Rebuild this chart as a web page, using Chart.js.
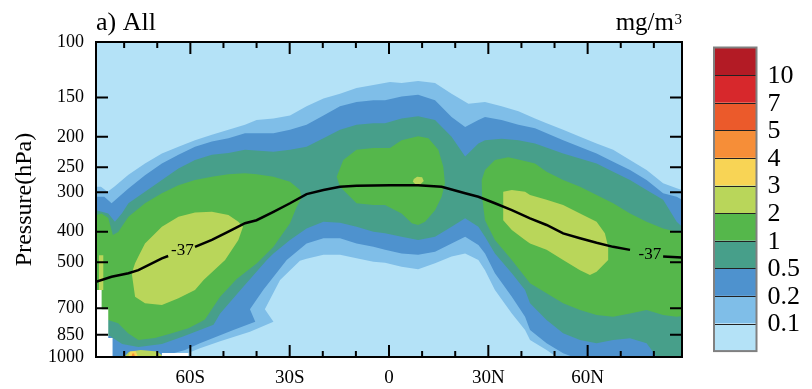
<!DOCTYPE html>
<html>
<head>
<meta charset="utf-8">
<script src="https://cdn.jsdelivr.net/npm/chart.js@4.4.1/dist/chart.umd.min.js"></script>
<style>
  html, body { margin: 0; padding: 0; background: #fff; }
  #wrap { width: 812px; height: 389px; }
</style>
</head>
<body>
<div id="wrap"><canvas id="chart" width="812" height="389"></canvas></div>
<script>
// contour levels (mg/m3) and the shade used above each of them
const LEVELS = [0.1, 0.2, 0.5, 1, 2, 3, 4, 5, 7, 10];
const LEVEL_COLORS = ['#b4e2f7', '#7fbee8', '#4e92ce', '#479f8a', '#55b74b', '#b9d65a',
                      '#f8d455', '#f68e38', '#eb5a2b', '#d7282c', '#b31b25'];

const PRESSURE_TICKS = [100, 150, 200, 250, 300, 400, 500, 700, 850, 1000];
const LAT_TICKS = [-80, -70, -60, -50, -40, -30, -20, -10, 0, 10, 20, 30, 40, 50, 60, 70, 80];
const LAT_LABELS = ['', '', '60S', '', '', '30S', '', '', '0', '', '', '30N', '', '', '60N', '', ''];

// filled regions, [latitude, pressure] outlines
const above01 = [[-88.5,288],[-87,288],[-85,299],[-83,288],[-78.7,264],[-73.7,243],[-68.6,226],[-63.6,215],
  [-58.6,205],[-53.5,197],[-48.5,190],[-43.5,183],[-40,177],[-34.9,175],[-29.9,171],[-24.9,160],[-19.8,151],
  [-14.8,146],[-9.8,140],[-4.7,137],[0.3,134],[3.8,135],[8.8,133],[13.9,135],[18.9,146],[24,157],[29,155],
  [34,160],[39.1,166],[44.1,175],[47.6,181],[52.6,190],[57.7,200],[62.7,210],[67.7,220],[72.8,237],[77.8,255],
  [82.8,281],[86.9,291],[88.5,295],[88.5,1000],[50.6,1000],[47.6,950],[42.6,883],[41.1,821],[37.1,727],
  [32,613],[29,530],[27,492],[23,469],[18.9,480],[13.9,504],[8.8,527],[3.8,517],[-1.2,502],[-4.7,498],
  [-9.8,486],[-14.8,474],[-19.8,474],[-24.9,488],[-26.9,495],[-32.9,570],[-37.5,705],[-34.9,773],
  [-42,831],[-51,891],[-57.1,938],[-63.7,1000],[-88.5,1000]];

const above02 = [[-88.5,310],[-86,310],[-83.8,325],[-78.7,292],[-73.7,265],[-68.6,243],[-63.6,228],[-58.6,215],
  [-53.5,207],[-48.5,202],[-43.5,195],[-34.9,195],[-29.9,190],[-24.9,183],[-19.8,171],[-14.8,160],[-9.8,155],
  [-4.7,153],[-1.2,153],[3.8,149],[8.8,147],[13.9,153],[18.9,173],[23,186],[27,177],[29,173],[34,177],
  [39.1,183],[44.1,188],[52.6,205],[62.7,226],[67.7,240],[72.8,255],[77.8,274],[82.8,302],[86.9,310],
  [88.5,317],[88.5,1000],[55.6,1000],[52.6,973],[47.6,905],[42.6,821],[41.1,745],[37.1,644],[32,542],
  [29,469],[27,441],[23,415],[18.9,436],[13.9,463],[8.8,474],[3.8,469],[-1.2,457],[-4.7,447],[-9.8,436],
  [-14.8,420],[-19.8,420],[-24.9,436],[-30.9,492],[-38,613],[-42,705],[-40.4,773],[-47,821],[-57.1,905],
  [-61.6,950],[-69.2,1000],[-88.5,1000]];

const above05 = [[-88.5,342],[-84.8,350],[-82.8,372],[-80.7,350],[-78.7,325],[-73.7,299],[-68.6,274],
  [-63.6,252],[-58.6,237],[-53.5,228],[-48.5,225],[-43.5,220],[-34.9,223],[-29.9,220],[-24.9,215],[-19.8,202],
  [-14.8,190],[-9.8,183],[-4.7,181],[-1.2,181],[3.8,175],[8.8,172],[13.9,177],[18.9,200],[23,231],[27,210],
  [29,205],[34,203],[39.1,205],[44.1,210],[52.6,226],[62.7,243],[67.7,258],[72.8,274],[77.8,295],[82.8,317],
  [86.9,372],[88.5,386],[88.5,1000],[80.9,1000],[77.8,905],[72.8,872],[67.7,883],[62.7,905],[57.7,883],
  [52.6,841],[47.6,763],[42.6,675],[41.1,613],[37.1,542],[32,469],[29,415],[27,386],[23,363],[18.9,386],
  [13.9,415],[8.8,425],[3.8,415],[-1.2,405],[-4.7,400],[-9.8,386],[-14.8,375],[-19.8,372],[-24.9,391],
  [-29.9,425],[-34.9,469],[-36.9,492],[-44,598],[-51,727],[-53,790],[-57.1,821],[-62,860],[-68.6,910],
  [-75.7,929],[-80.6,910],[-84.3,858],[-88.5,858]];

const above1West = [[-88.5,354],[-86.8,350],[-84.8,362],[-83.4,410],[-81.8,401],[-78.7,359],[-73.7,325],
  [-68.6,302],[-63.6,285],[-58.6,274],[-53.5,268],[-48.5,263],[-43.5,261],[-40,263],[-34.9,268],[-29.9,278],
  [-26.9,295],[-26.4,313],[-27.9,334],[-29.9,376],[-34.9,447],[-40,505],[-46,565],[-51,644],[-55.6,760],
  [-57.1,775],[-60.6,810],[-65.6,840],[-70.7,870],[-75.7,883],[-78.8,840],[-81.8,781],[-84.8,763],[-88.5,750]];

const above1Mid = [[-15.8,268],[-13.8,237],[-9.8,220],[-4.7,217],[0.3,217],[3.8,205],[8.8,199],[11.9,202],
  [14.9,220],[16.4,249],[16.9,281],[15.9,310],[13.9,342],[10.9,372],[8.8,381],[6.9,376],[3.8,350],
  [-1.2,329],[-4.7,329],[-9.8,325],[-14.8,288]];

const above1East = [[28,274],[29,255],[32,237],[36,232],[39.1,236],[44.1,243],[47.6,258],[52.6,274],
  [57.7,288],[62.7,306],[67.7,325],[72.8,350],[77.8,372],[82.8,391],[86.9,400],[88.5,405],[88.5,741],
  [86.9,745],[82.8,736],[77.8,709],[72.8,727],[67.7,745],[62.7,736],[57.7,709],[52.6,675],[47.6,628],
  [42.6,583],[37.1,492],[32,425],[29,368],[28.1,310]];

const above2West = [[-75.7,480],[-73.7,436],[-68.6,386],[-63.6,359],[-58.6,348],[-53.5,346],[-48.5,354],
  [-45.5,372],[-44.1,386],[-45.5,425],[-49.5,492],[-56,570],[-58.6,613],[-63.6,651],[-68.6,684],
  [-73.7,675],[-76.7,644],[-77.7,542],[-76.7,504]];

const above2Mid = [[7.5,272],[8.5,268],[10,269],[10.5,276],[9.5,283],[8,283],[7.2,278]];

const above2East = [[34.5,299],[37.1,295],[41.1,299],[42.6,306],[47.6,317],[52.6,329],[57.7,350],
  [62.7,372],[65.2,405],[66.2,447],[66.2,492],[62.7,536],[60.7,549],[57.7,530],[52.6,492],[47.6,457],
  [42.6,436],[41.1,425],[37.1,395],[34.5,368]];

const above2Edge = [[-87.6,475],[-86.3,475],[-86.3,613],[-87.6,613]];
const above2Floor = [[-80,1000],[-78.5,962],[-75,950],[-70,960],[-68,1000]];
const above3Floor = [[-78.8,1000],[-78.2,960],[-76.5,958],[-75.8,1000]];
const above4Floor = [[-77.8,1000],[-77.5,975],[-77,975],[-76.7,1000]];

// no data
const missingEdge = [[-88.5,613],[-86.8,613],[-86.8,705],[-84.8,705],[-84.8,870],[-83.5,870],
  [-83.5,1000],[-88.5,1000]];
const missingFloor = [[-68.6,1000],[-68.6,972],[-60.7,972],[-60.7,1000]];

// -37 isotherm, null where the label sits
const isotherm37 = [[-88.5,577],[-83.8,556],[-78.7,542],[-75.7,530],[-68.6,486],[-66.7,478],null,
  [-58.6,447],[-53.5,425],[-48.5,400],[-43.5,376],[-40,368],[-34.9,346],[-29.9,325],[-24.9,304],
  [-19.8,295],[-14.8,288],[-9.8,286],[0.3,285],[8.8,285],[15.9,288],[18.9,294],[23,302],[27,310],
  [32,325],[37.1,342],[42.6,363],[47.6,381],[52.6,405],[57.7,420],[62.7,434],[67.7,447],[72.8,457],null,
  [82.8,480],[88.5,483]];
const isothermLabels = [[-62.4, 460, '-37'], [78.8, 472, '-37']];

const SERIF = '"Liberation Serif", "Times New Roman", serif';
Chart.defaults.font.family = SERIF;
Chart.defaults.color = '#000';

const regions = [
  {pts: above01, level: 1}, {pts: above02, level: 2}, {pts: above05, level: 3},
  {pts: above1West, level: 4}, {pts: above1Mid, level: 4}, {pts: above1East, level: 4},
  {pts: above2West, level: 5}, {pts: above2Mid, level: 5}, {pts: above2East, level: 5},
  {pts: above2Edge, level: 5}, {pts: above2Floor, level: 5},
  {pts: above3Floor, level: 6}, {pts: above4Floor, level: 7},
  {pts: missingEdge, level: 20, color: '#ffffff'}, {pts: missingFloor, level: 20, color: '#ffffff'}
];

const toXY = pt => pt ? {x: pt[0], y: pt[1]} : {x: null, y: null};

const datasets = regions.map(r => ({
  data: r.pts.map(toXY),
  backgroundColor: r.color || LEVEL_COLORS[r.level],
  borderColor: 'transparent',
  borderWidth: 0,
  pointRadius: 0,
  fill: 'shape',
  order: 100 - r.level
}));

datasets.push({
  data: isotherm37.map(toXY),
  borderColor: '#000',
  borderWidth: 2.5,
  pointRadius: 0,
  fill: false,
  spanGaps: false,
  order: 0
});

// shade below the lowest level fills the whole plot
const plotBackground = {
  id: 'plotBackground',
  beforeDraw(chart) {
    const {ctx, chartArea: a} = chart;
    ctx.save();
    ctx.fillStyle = LEVEL_COLORS[0];
    ctx.fillRect(a.left, a.top, a.right - a.left, a.bottom - a.top);
    ctx.restore();
  }
};

const contourLabels = {
  id: 'contourLabels',
  afterDatasetsDraw(chart) {
    const {ctx, scales: {x, y}} = chart;
    ctx.save();
    ctx.font = '17px ' + SERIF;
    ctx.fillStyle = '#000';
    ctx.textAlign = 'center';
    ctx.textBaseline = 'middle';
    isothermLabels.forEach(([lat, p, txt]) => {
      ctx.fillText(txt, x.getPixelForValue(lat), y.getPixelForValue(p));
    });
    ctx.restore();
  }
};

// box round the plot with inward tick marks on all four sides
const frameTicks = {
  id: 'frameTicks',
  afterDatasetsDraw(chart) {
    const {ctx, chartArea: a, scales: {x, y}} = chart;
    ctx.save();
    ctx.strokeStyle = '#000';
    ctx.lineWidth = 2;
    ctx.beginPath();
    LAT_TICKS.forEach(v => {
      const px = x.getPixelForValue(v);
      const len = v % 30 === 0 ? 12 : 6;
      ctx.moveTo(px, a.bottom); ctx.lineTo(px, a.bottom - len);
      ctx.moveTo(px, a.top); ctx.lineTo(px, a.top + len);
    });
    PRESSURE_TICKS.forEach(v => {
      const py = y.getPixelForValue(v);
      ctx.moveTo(a.left, py); ctx.lineTo(a.left + 12, py);
      ctx.moveTo(a.right, py); ctx.lineTo(a.right - 12, py);
    });
    ctx.stroke();
    ctx.strokeRect(a.left, a.top, a.right - a.left, a.bottom - a.top);
    ctx.restore();
  }
};

const headerAndColorbar = {
  id: 'headerAndColorbar',
  afterDraw(chart) {
    const {ctx, chartArea: a} = chart;
    ctx.save();
    ctx.fillStyle = '#000';
    ctx.textBaseline = 'alphabetic';

    ctx.font = '26px ' + SERIF;
    ctx.textAlign = 'left';
    ctx.fillText('a) All', a.left, 30);

    ctx.font = '15px ' + SERIF;
    const supW = ctx.measureText('3').width;
    ctx.fillText('3', a.right - supW, 24);
    ctx.font = '25px ' + SERIF;
    ctx.textAlign = 'right';
    ctx.fillText('mg/m', a.right - supW - 0.5, 30);

    // colour key
    const left = 714, top = 47.5, w = 42.5, cell = 27.6;
    const n = LEVEL_COLORS.length;
    for (let i = 0; i < n; i++) {
      ctx.fillStyle = LEVEL_COLORS[n - 1 - i];
      ctx.fillRect(left, top + i * cell, w, cell);
    }
    ctx.strokeStyle = '#222';
    ctx.lineWidth = 1;
    ctx.beginPath();
    for (let i = 1; i < n; i++) {
      const yy = Math.round(top + i * cell) + 0.5;
      ctx.moveTo(left, yy); ctx.lineTo(left + w, yy);
    }
    ctx.stroke();
    ctx.strokeStyle = '#808080';
    ctx.lineWidth = 2;
    ctx.strokeRect(left, top, w, n * cell);

    ctx.fillStyle = '#000';
    ctx.font = '26px ' + SERIF;
    ctx.textAlign = 'left';
    ctx.textBaseline = 'middle';
    const labels = LEVELS.slice().reverse();
    labels.forEach((lv, i) => {
      ctx.fillText(String(lv), left + w + 11, top + (i + 1) * cell + 1);
    });
    ctx.restore();
  }
};

new Chart(document.getElementById('chart'), {
  type: 'line',
  data: {datasets},
  options: {
    responsive: false,
    animation: false,
    events: [],
    devicePixelRatio: 1,
    layout: {padding: {left: 0, top: 42, right: 130, bottom: 0}},
    plugins: {legend: {display: false}, tooltip: {enabled: false}},
    scales: {
      x: {
        type: 'linear',
        min: -88.5,
        max: 88.5,
        afterBuildTicks: s => { s.ticks = LAT_TICKS.map(v => ({value: v})); },
        afterFit: s => { s.height = 32; },
        grid: {display: false, drawTicks: false},
        border: {display: false},
        ticks: {
          autoSkip: false, maxRotation: 0, padding: 10,
          font: {size: 19},
          callback: (v, i) => LAT_LABELS[i]
        }
      },
      y: {
        type: 'logarithmic',
        reverse: true,
        min: 100,
        max: 1000,
        afterBuildTicks: s => { s.ticks = PRESSURE_TICKS.map(v => ({value: v})); },
        afterFit: s => { s.width = 96; },
        grid: {display: false, drawTicks: false},
        border: {display: false},
        ticks: {
          autoSkip: false, padding: 12,
          font: {size: 18},
          callback: v => String(v)
        },
        title: {
          display: true,
          text: 'Pressure(hPa)',
          font: {size: 24, lineHeight: 1},
          padding: {top: 13, bottom: 0}
        }
      }
    }
  },
  plugins: [plotBackground, contourLabels, frameTicks, headerAndColorbar]
});
</script>
</body>
</html>
